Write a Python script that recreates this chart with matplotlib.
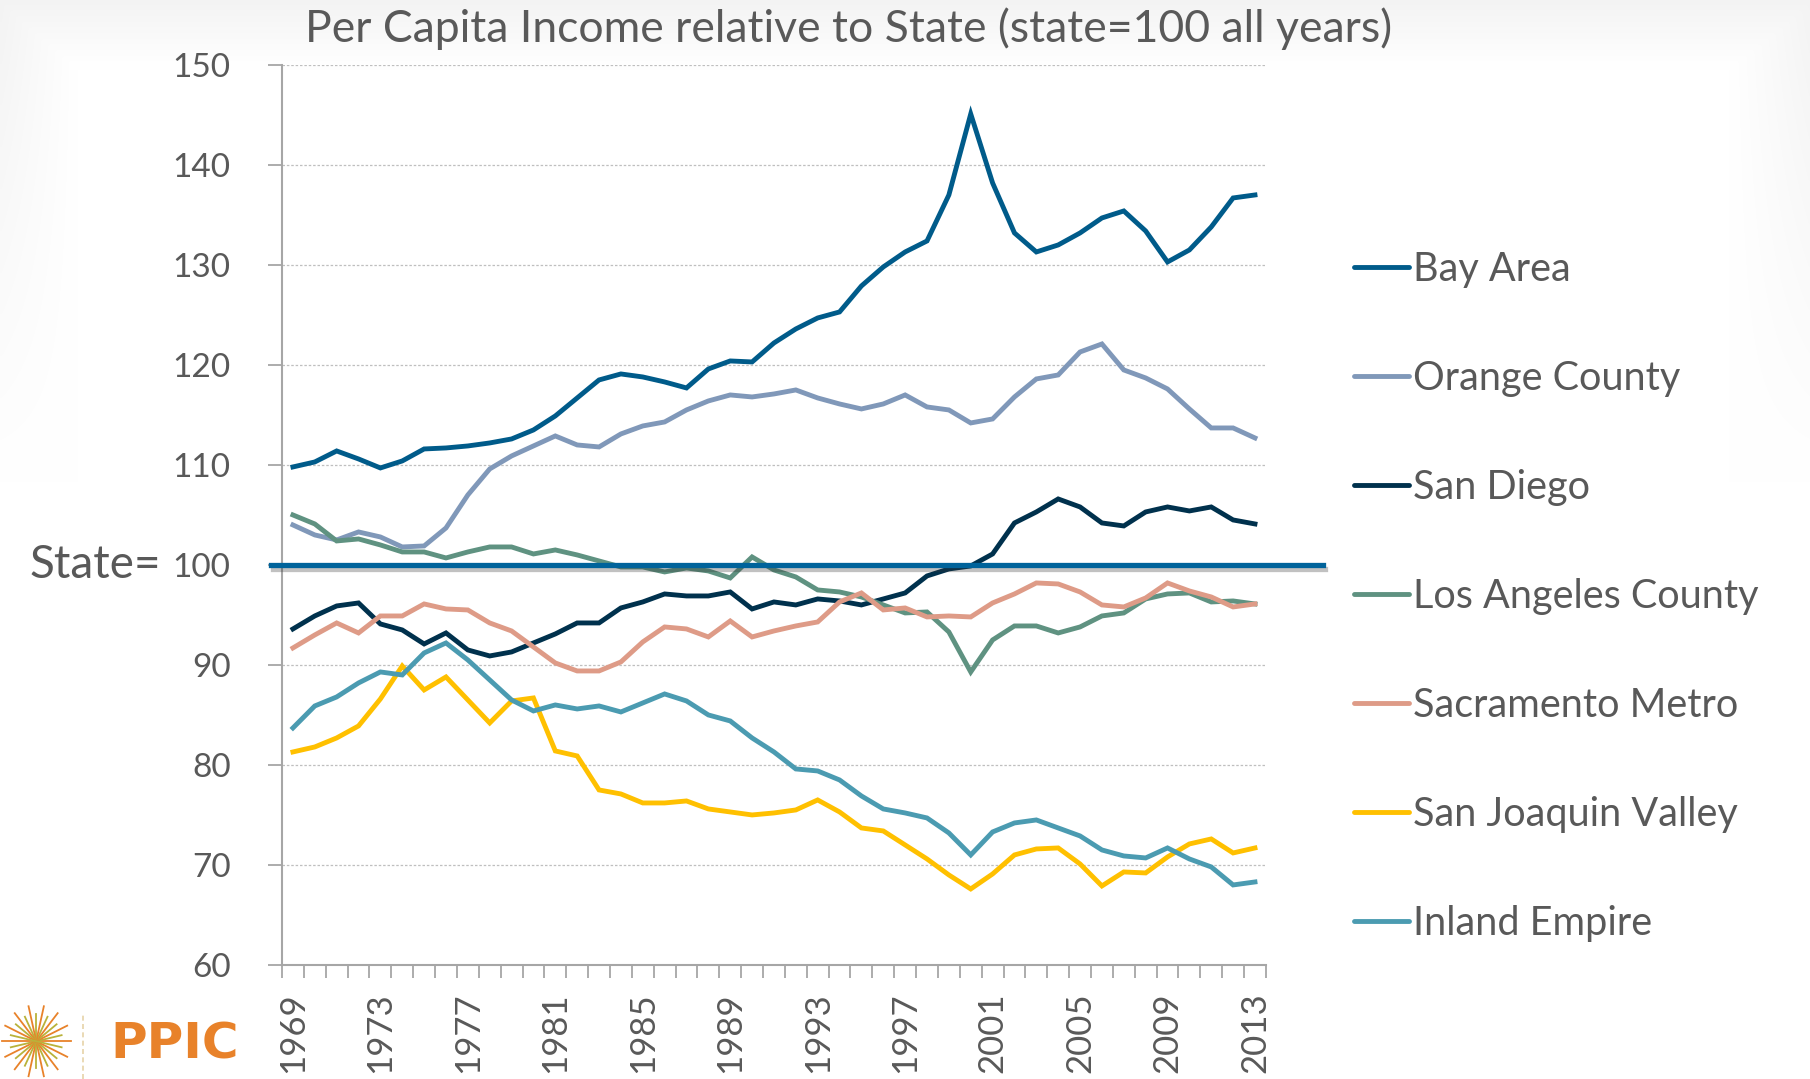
import numpy as np
import matplotlib
matplotlib.use('Agg')
import matplotlib.pyplot as plt
import matplotlib.patheffects as pe
from matplotlib.ticker import FixedLocator

plt.rcParams['font.family'] = ['Lato', 'DejaVu Sans']

# data (state = 100)
years = list(range(1969, 2014))

bay_area = [109.8, 110.3, 111.4, 110.6, 109.7, 110.4, 111.6, 111.7, 111.9, 112.2,
            112.6, 113.5, 114.9, 116.7, 118.5, 119.1, 118.8, 118.3, 117.7, 119.6,
            120.4, 120.3, 122.2, 123.6, 124.7, 125.3, 127.9, 129.8, 131.3, 132.4,
            137.0, 145.1, 138.2, 133.2, 131.3, 132.0, 133.2, 134.7, 135.4, 133.4,
            130.3, 131.5, 133.8, 136.7, 137.0]
orange_county = [104.0, 103.0, 102.5, 103.3, 102.8, 101.8, 101.9, 103.7, 107.0, 109.6,
                 110.9, 111.9, 112.9, 112.0, 111.8, 113.1, 113.9, 114.3, 115.5, 116.4,
                 117.0, 116.8, 117.1, 117.5, 116.7, 116.1, 115.6, 116.1, 117.0, 115.8,
                 115.5, 114.2, 114.6, 116.8, 118.6, 119.0, 121.3, 122.1, 119.5, 118.7,
                 117.6, 115.6, 113.7, 113.7, 112.7]
san_diego = [93.6, 94.9, 95.9, 96.2, 94.1, 93.5, 92.1, 93.2, 91.5, 90.9,
             91.3, 92.2, 93.1, 94.2, 94.2, 95.7, 96.3, 97.1, 96.9, 96.9,
             97.3, 95.6, 96.3, 96.0, 96.6, 96.4, 96.0, 96.6, 97.2, 98.9,
             99.6, 99.9, 101.1, 104.2, 105.3, 106.6, 105.8, 104.2, 103.9, 105.3,
             105.8, 105.4, 105.8, 104.5, 104.1]
los_angeles = [105.0, 104.1, 102.4, 102.6, 102.0, 101.3, 101.3, 100.7, 101.3, 101.8,
               101.8, 101.1, 101.5, 101.0, 100.4, 99.8, 99.8, 99.3, 99.7, 99.4,
               98.7, 100.8, 99.5, 98.8, 97.5, 97.3, 96.8, 96.0, 95.2, 95.3,
               93.3, 89.3, 92.5, 93.9, 93.9, 93.2, 93.8, 94.9, 95.2, 96.6,
               97.1, 97.2, 96.3, 96.4, 96.1]
sacramento = [91.7, 93.0, 94.2, 93.2, 94.9, 94.9, 96.1, 95.6, 95.5, 94.2,
              93.4, 91.8, 90.2, 89.4, 89.4, 90.3, 92.3, 93.8, 93.6, 92.8,
              94.4, 92.8, 93.4, 93.9, 94.3, 96.3, 97.2, 95.5, 95.7, 94.8,
              94.9, 94.8, 96.2, 97.1, 98.2, 98.1, 97.3, 96.0, 95.8, 96.7,
              98.2, 97.4, 96.8, 95.8, 96.1]
san_joaquin = [81.3, 81.8, 82.7, 83.9, 86.6, 89.9, 87.5, 88.8, 86.5, 84.2,
               86.4, 86.7, 81.4, 80.9, 77.5, 77.1, 76.2, 76.2, 76.4, 75.6,
               75.3, 75.0, 75.2, 75.5, 76.5, 75.3, 73.7, 73.4, 72.0, 70.6,
               69.0, 67.6, 69.1, 71.0, 71.6, 71.7, 70.1, 67.9, 69.3, 69.2,
               70.8, 72.1, 72.6, 71.2, 71.7]
inland_empire = [83.7, 85.9, 86.8, 88.2, 89.3, 89.0, 91.2, 92.2, 90.5, 88.5,
                 86.5, 85.4, 86.0, 85.6, 85.9, 85.3, 86.2, 87.1, 86.4, 85.0,
                 84.4, 82.7, 81.3, 79.6, 79.4, 78.5, 76.9, 75.6, 75.2, 74.7,
                 73.2, 71.0, 73.3, 74.2, 74.5, 73.7, 72.9, 71.5, 70.9, 70.7,
                 71.7, 70.6, 69.8, 68.0, 68.3]

regions = ['Bay Area', 'Orange County', 'San Diego', 'Los Angeles County',
           'Sacramento Metro', 'San Joaquin Valley', 'Inland Empire']
series = [bay_area, orange_county, san_diego, los_angeles, sacramento,
          san_joaquin, inland_empire]
colors = ['#005B8A', '#8098B9', '#00314D', '#5F9281', '#DE9B87', '#FFC000', '#4B9BB1']

state_level = 100
label_years = years[::4]
text_col = '#595959'

W, H = 1810, 1079
fig = plt.figure(figsize=(W / 100, H / 100), dpi=100)
fig.patch.set_facecolor('white')

# faint slide-frame shading along the top and the upper side edges
bg = fig.add_axes([0, 0, 1, 1], zorder=-10)
px, py = np.meshgrid(np.arange(0, W, 4), np.arange(0, H, 4))
top = np.clip(1 - py / 65, 0, 1)
fade = np.clip(1 - py / 480, 0, 1)
left = np.clip(1 - px / 75, 0, 1) * fade
right = np.clip(1 - (W - px) / 80, 0, 1) * fade
shade = 1 - 0.045 * np.maximum(np.maximum(top, left), right)
bg.imshow(np.dstack([shade] * 3), extent=[0, 1, 0, 1], aspect='auto',
          interpolation='bilinear')
bg.axis('off')

ax = fig.add_axes([0.1558, 0.1057, 0.5436, 0.8341])
ax.patch.set_alpha(0)

for name, vals, c in zip(regions, series, colors):
    ax.plot(years, vals, color=c, lw=3.5, label=name, solid_joinstyle='miter')

# state reference line, drawn past the axes on both sides
ax.plot([years[0] - 1.0, years[-1] + 3.1], [state_level, state_level],
        color='#00639B', lw=3.8, clip_on=False, zorder=5,
        path_effects=[pe.SimpleLineShadow(offset=(1.5, -3), alpha=0.3, shadow_color='#333333'),
                      pe.Normal()])

ax.set_xlim(years[0] - 0.5, years[-1] + 0.5)
ax.set_ylim(60, 150)
ax.set_yticks(range(60, 151, 10))
for y in range(70, 151, 10):
    if y != state_level:
        ax.axhline(y, color='#BFBFBF', lw=0.9, ls=(0, (2, 1.5)), zorder=0)

# category boundaries as major ticks, labels at category centres as minor ticks
ax.xaxis.set_major_locator(FixedLocator(np.arange(years[0] - 0.5, years[-1] + 1, 1)))
ax.xaxis.set_major_formatter(plt.NullFormatter())
ax.xaxis.set_minor_locator(FixedLocator(label_years))
ax.set_xticklabels([str(y) for y in label_years], minor=True, rotation=90)
ax.tick_params(axis='x', which='major', length=9, width=1.3, color='#A6A6A6', direction='out')
ax.tick_params(axis='x', which='minor', length=0, pad=20, labelsize=25, labelcolor=text_col)
ax.tick_params(axis='y', length=10, width=1.3, color='#A6A6A6', pad=27,
               labelsize=24, labelcolor=text_col)

for s in ['top', 'right']:
    ax.spines[s].set_visible(False)
for s in ['left', 'bottom']:
    ax.spines[s].set_color('#A6A6A6')
    ax.spines[s].set_linewidth(1.5)

ax.annotate('State=', xy=(0.0893, state_level), xycoords=('figure fraction', 'data'),
            ha='right', va='center', fontsize=33, color=text_col)

fig.text(0.469, 0.973, 'Per Capita Income relative to State (state=100 all years)',
         ha='center', va='center', fontsize=32, color=text_col)

leg = fig.legend(loc='center left', bbox_to_anchor=(0.748, 0.447), frameon=False,
                 fontsize=28.5, handlelength=1.4, handletextpad=0.1, labelspacing=1.82,
                 borderaxespad=0, borderpad=0)
for t in leg.get_texts():
    t.set_color(text_col)
for h in leg.get_lines():
    h.set_linewidth(3.5)
    h.set_solid_capstyle('round')

# PPIC logo, bottom left
fig.text(0.061, 0.032, 'PPIC', ha='left', va='center', fontsize=36, fontweight='heavy',
         color='#E8822A', family='DejaVu Sans')
fig.add_artist(plt.Line2D([0.046, 0.046], [0.0, 0.06], color='#E6D3A8', lw=1.2,
                          ls=(0, (3, 2))))
lax = fig.add_axes([0.0, 0.0, 0.04, 0.07])
lax.set_xlim(-1, 1)
lax.set_ylim(-1, 1)
lax.axis('off')
for i, a in enumerate(np.linspace(0, np.pi, 14, endpoint=False)):
    r = 0.95 if i % 2 == 0 else 0.72
    lax.plot([-r * np.cos(a), r * np.cos(a)], [-r * np.sin(a), r * np.sin(a)],
             color='#E8822A' if i % 2 == 0 else '#B9B23A', lw=1.3)

fig.savefig('out.png', dpi=100, facecolor='white')
